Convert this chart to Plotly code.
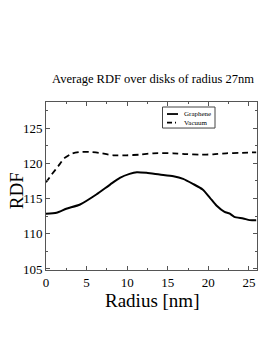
import plotly.graph_objects as go

radius_graphene = [0, 1.3, 2.5, 4.2, 6.2, 7.9, 9.1, 10.3, 11.2, 12.4, 14.0, 15.7, 16.9, 18.1, 19.3, 20.2, 21.0, 22.0, 22.6, 23.2, 24.3, 25.1, 25.9]
rdf_graphene = [112.83, 112.97, 113.54, 114.15, 115.57, 116.98, 117.93, 118.5, 118.73, 118.64, 118.4, 118.16, 117.79, 117.08, 116.28, 115.1, 114.0, 113.1, 112.88, 112.4, 112.17, 111.93, 111.93]

radius_vacuum = [0, 0.7, 1.5, 2.3, 3.2, 4.2, 5.4, 6.6, 8.3, 9.9, 11.6, 13.2, 15.7, 17.3, 18.9, 20.6, 22.2, 23.9, 25.9]
rdf_vacuum = [117.3, 118.4, 119.58, 120.76, 121.37, 121.6, 121.6, 121.47, 121.13, 121.13, 121.23, 121.42, 121.42, 121.3, 121.23, 121.27, 121.42, 121.47, 121.56]

x_ticks = [0, 5, 10, 15, 20, 25]
y_ticks = [105, 110, 115, 120, 125]
series_names = ["Graphene", "Vacuum"]

SERIF = "Liberation Serif, Times New Roman, serif"

# plot area in pixels (for converting legend decoration positions)
L, R, T, B = 46, 257, 102, 269.7
W, H = R - L, B - T


def px(x):
    return (x - L) / W


def py(y):
    return 1 - (y - T) / H


fig = go.Figure()
fig.add_trace(go.Scatter(x=radius_graphene, y=rdf_graphene, mode="lines", name=series_names[0],
                         line=dict(color="black", width=2, shape="spline", smoothing=0.6)))
fig.add_trace(go.Scatter(x=radius_vacuum, y=rdf_vacuum, mode="lines", name=series_names[1],
                         line=dict(color="black", width=1.8, dash="6px,4px", shape="spline", smoothing=0.6)))

axis_common = dict(showgrid=False, zeroline=False, showline=True, linecolor="#555555", linewidth=1,
                   mirror="ticks", ticks="inside", ticklen=4, tickwidth=1, tickcolor="#555555",
                   tickfont=dict(family=SERIF, size=13, color="black"), automargin=False,
                   minor=dict(ticks="inside", ticklen=2, tickcolor="#555555"))

fig.update_xaxes(range=[0, 26], tickvals=x_ticks, minor_dtick=2.5, ticklabelstandoff=0, **axis_common)
fig.update_yaxes(range=[104.85, 128.7], tickvals=y_ticks, minor_dtick=2.5, ticklabelstandoff=0, **axis_common)

# compact legend (box, samples, labels) drawn as decoration
shapes = [
    dict(type="rect", xref="paper", yref="paper", x0=px(162.5), x1=px(215), y0=py(128), y1=py(107),
         line=dict(color="#444444", width=1), fillcolor="white", layer="above"),
    dict(type="line", xref="paper", yref="paper", x0=px(167), x1=px(178), y0=py(114), y1=py(114),
         line=dict(color="black", width=1.8)),
    dict(type="line", xref="paper", yref="paper", x0=px(167), x1=px(178), y0=py(122.5), y1=py(122.5),
         line=dict(color="black", width=1.8, dash="5px,3px,1px,3px")),
]
annotations = [
    dict(text=series_names[0], xref="paper", yref="paper", x=px(182), y=py(114), xanchor="left",
         yanchor="middle", showarrow=False, font=dict(family=SERIF, size=7, color="black")),
    dict(text=series_names[1], xref="paper", yref="paper", x=px(182), y=py(122.5), xanchor="left",
         yanchor="middle", showarrow=False, font=dict(family=SERIF, size=7, color="black")),
    dict(text="Radius [nm]", xref="paper", yref="paper", x=0.5, y=-(300 - B) / H,
         xanchor="center", yanchor="middle", showarrow=False,
         font=dict(family=SERIF, size=19, color="black")),
    dict(text="RDF", xref="paper", yref="paper", x=-(L - 16) / W, y=1 - (191 - T) / H,
         xanchor="center", yanchor="middle", showarrow=False, textangle=-90,
         font=dict(family=SERIF, size=19, color="black")),
]

fig.update_layout(
    width=273, height=353,
    margin=dict(l=46, r=16, t=102, b=83, autoexpand=False),
    paper_bgcolor="white", plot_bgcolor="white",
    title=dict(text="Average RDF over disks of radius 27nm", x=153 / 273, xanchor="center",
               y=1 - 79 / 353, yanchor="middle", yref="container",
               font=dict(family=SERIF, size=12.5, color="black")),
    showlegend=False,
    shapes=shapes,
    annotations=annotations,
)

fig.write_html("out.html", config={"displayModeBar": False},
               post_script="document.body.style.margin='0';document.body.style.overflow='hidden';")
